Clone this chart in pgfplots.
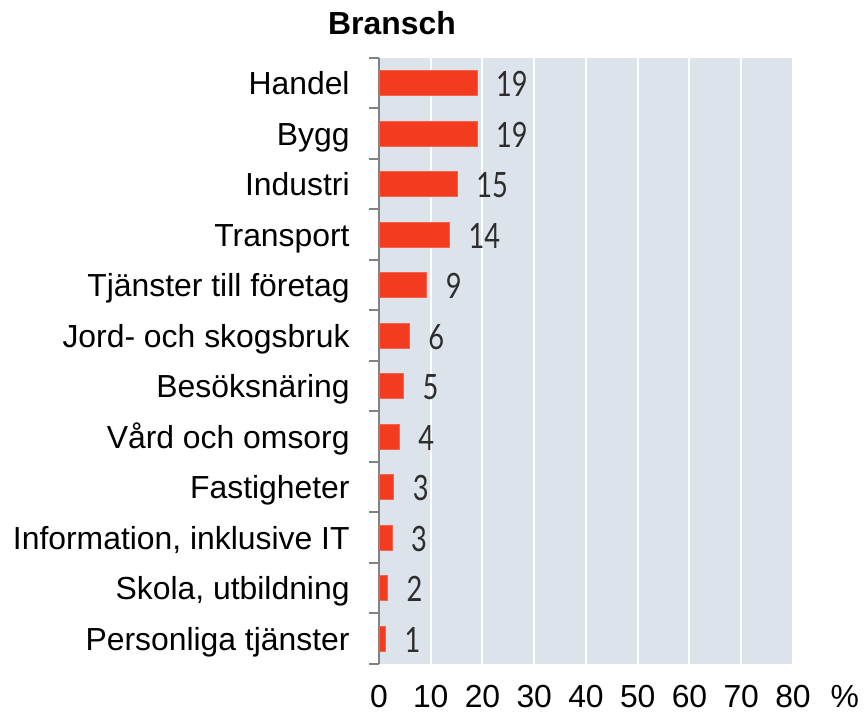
\documentclass[border=0pt]{standalone}
\usepackage{pgfplots}
\pgfplotsset{compat=1.18}
\usepackage{pgfplotstable}
\usepackage{graphicx}
\usepackage{fontspec}
\setmainfont{Liberation Sans}
\newfontfamily\valfont{Lato}
\definecolor{bgc}{RGB}{221,227,234}
\definecolor{barc}{RGB}{243,60,31}
\definecolor{axc}{RGB}{130,130,130}
\definecolor{valc}{RGB}{45,45,45}
\pgfplotstableread{
y x lab
11 18.9 19
10 18.9 19
9 15.1 15
8 13.6 14
7 9.2 9
6 5.8 6
5 4.7 5
4 3.9 4
3 2.8 3
2 2.5 3
1 1.6 2
0 1.2 1
}\datatab
\begin{document}
\begin{tikzpicture}
\begin{axis}[
  name=ax,
  scale only axis,
  width=207bp, height=303bp,
  xmin=0, xmax=80,
  ymin=-0.5, ymax=11.5,
  xbar, bar width=12.5bp,
  axis x line*=bottom,
  axis y line*=left,
  x axis line style={draw=none},
  y axis line style={draw=axc, line width=1bp},
  axis background/.style={fill=bgc},
  xtick={0,10,...,80},
  xmajorgrids,
  grid style={white, line width=1bp},
  major tick length=0pt,
  ytick={0,...,11},
  yticklabels={Personliga tjänster,{Skola, utbildning},{Information, inklusive IT},Fastigheter,Vård och omsorg,Besöksnäring,Jord- och skogsbruk,Tjänster till företag,Transport,Industri,Bygg,Handel},
  minor ytick={-0.5,0.5,...,11.5},
  minor tick length=5bp,
  tick align=outside,
  minor tick style={draw=axc, line width=1bp},
  /pgf/number format/assume math mode=true,
  tick label style={font=\fontsize{16}{19}\selectfont},
  yticklabel style={anchor=base east, inner sep=0pt, xshift=-14.5bp, yshift=-5.75bp},
  xticklabel style={anchor=base, inner sep=0pt, yshift=-22bp},
  point meta=explicit symbolic,
  nodes near coords={\scalebox{0.78}[1]{\pgfplotspointmeta}},
  every node near coord/.append style={anchor=base west, inner sep=0pt, xshift=9.5bp, yshift=-6.8bp, font=\valfont\fontsize{17.5}{20}\selectfont, text=valc},
  clip=false,
]
\addplot[fill=barc, draw=barc!80!white, line width=0.3bp] table[x=x, y=y, meta=lab] {\datatab};
\node[anchor=base, font=\fontsize{16}{19}\selectfont, inner sep=0pt] at (axis cs:90,-0.5) [yshift=-22bp] {\%};
\node[anchor=base, font=\bfseries\fontsize{16}{19}\selectfont, inner sep=0pt] at (rel axis cs:0,1) [xshift=6.5bp, yshift=11.5bp] {Bransch};
\end{axis}
\path (ax.north west) ++(-189.5bp,29bp) coordinate (a);
\path (ax.north west) ++(242.5bp,-327.5bp) coordinate (b);
\path (a) rectangle (b);
\end{tikzpicture}
\end{document}
